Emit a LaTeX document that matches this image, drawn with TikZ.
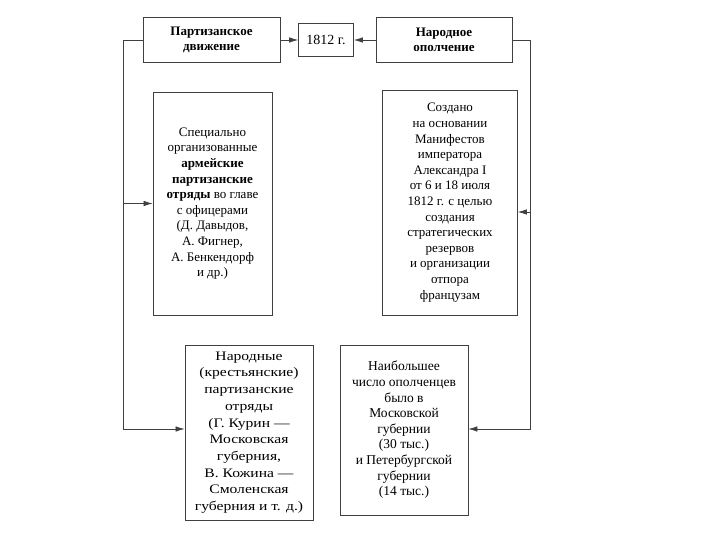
\documentclass[tikz,border=0pt]{standalone}
\usepackage{fontspec}
\setmainfont{Liberation Serif}
\newfontfamily\widefont[FakeStretch=1.2,Ligatures=TeX]{Liberation Serif}
\usetikzlibrary{arrows.meta}
\begin{document}
\begin{tikzpicture}[x=1pt,y=-1pt,>={Latex[length=9pt,width=5.5pt]},
  box/.style={draw=black!75,line width=0.8pt,align=center,inner sep=0pt,
    font=\fontsize{13}{15.6}\selectfont},
  head/.style={box,font=\bfseries\fontsize{13}{15}\selectfont},
  link/.style={draw=black!75,line width=0.7pt}]
  \useasboundingbox (0,0) rectangle (720,540);
  % top row
  \node[head,minimum width=137,minimum height=45] (partis) at (211.5,40) {Партизанское\\движение};
  \node[box,minimum width=55,minimum height=33,font=\fontsize{14}{16}\selectfont]
    (year) at (326,40) {1812 г.};
  \node[head,minimum width=136,minimum height=45] (opol) at (444,40) {Народное\\ополчение};
  \draw[link,->] (partis.east) -- (year.west);
  \draw[link,->] (opol.west) -- (year.east);
  % middle row
  \node[box,minimum width=119,minimum height=223] (army) at (212.5,203.5)
    {Специально\\организованные\\\textbf{армейские}\\\textbf{партизанские}\\
     \textbf{отряды} во главе\\с офицерами\\(Д. Давыдов,\\А. Фигнер,\\
     А. Бенкендорф\\и др.)};
  \node[box,minimum width=135,minimum height=225] (manif) at (450,202.5)
    {Создано\\на основании\\Манифестов\\императора\\Александра I\\
     от 6 и 18 июля\\1812 г. с целью\\создания\\стратегических\\резервов\\
     и организации\\отпора\\французам};
  % bottom row
  \node[box,minimum width=128,minimum height=175,font=\widefont\fontsize{13}{16.7}\selectfont]
    (peasant) at (249,432.5)
    {Народные\\(крестьянские)\\партизанские\\отряды\\(Г. Курин —\\
     Московская\\губерния,\\В. Кожина —\\Смоленская\\губерния и т. д.)};
  \node[box,minimum width=128,minimum height=170,font=\fontsize{13.5}{15.6}\selectfont]
    (most) at (404,430)
    {Наибольшее\\число ополченцев\\было в\\Московской\\губернии\\(30 тыс.)\\
     и Петербургской\\губернии\\(14 тыс.)};
  % side connectors
  \coordinate (lt) at (123,40);
  \coordinate (lb) at (123,429);
  \coordinate (lm) at (123,203.5);
  \coordinate (rt) at (530,40);
  \coordinate (rb) at (530,429);
  \coordinate (rm) at (530,212);
  \draw[link,->] (partis.west) -- (lt) -- (lb) -- (lb -| peasant.west);
  \draw[link,->] (lm) -- (lm -| army.west);
  \draw[link,->] (opol.east) -- (rt) -- (rb) -- (rb -| most.east);
  \draw[link,->] (rm) -- (rm -| manif.east);
\end{tikzpicture}
\end{document}
